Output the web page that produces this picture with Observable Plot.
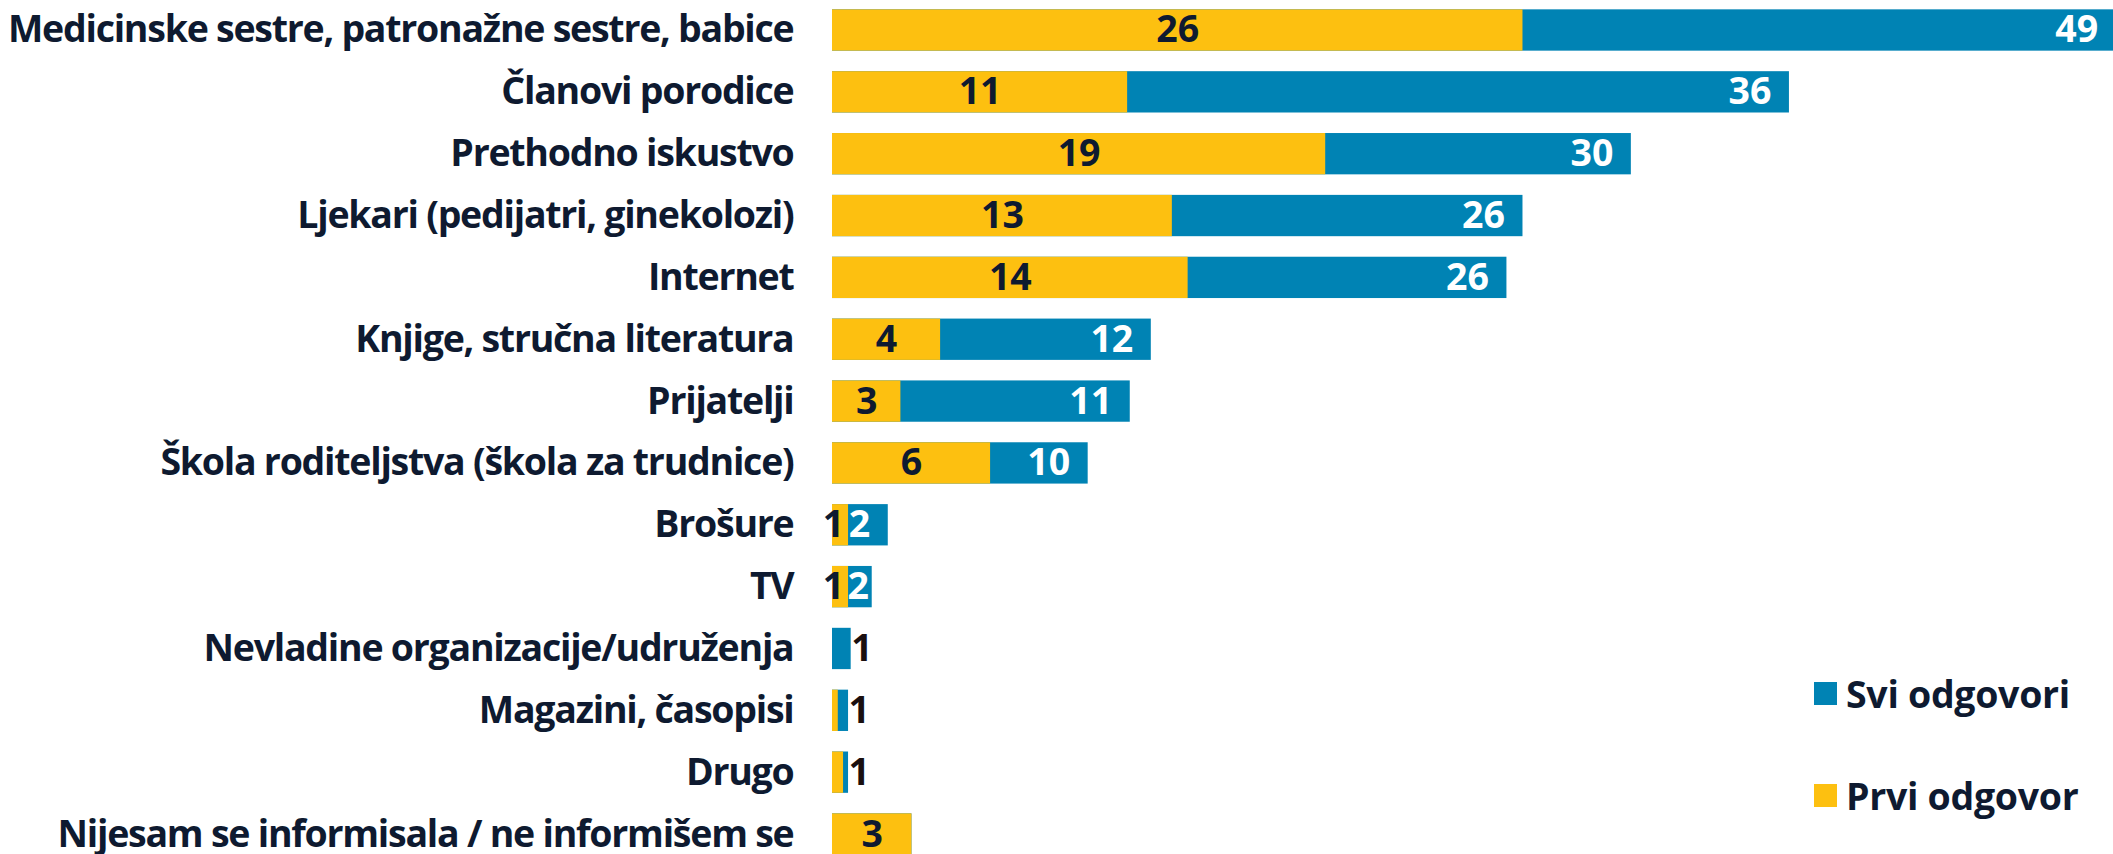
<!DOCTYPE html>
<html>
<head>
<meta charset="utf-8">
<script src="https://cdn.jsdelivr.net/npm/d3@7"></script>
<script src="https://cdn.jsdelivr.net/npm/@observablehq/plot@0.6"></script>
<style>
  html, body { margin: 0; padding: 0; background: white; }
  #wrap { position: relative; width: 2113px; height: 854px; overflow: hidden; }
  .legend-item { position: absolute; left: 1814px; height: 40px; display: flex; align-items: center;
    font-family: 'Open Sans', sans-serif; font-weight: 700; font-size: 37.5px; color: #0e1a30; white-space: nowrap; letter-spacing: -0.3px; }
  .legend-item .sw { width: 23px; height: 23px; margin-right: 9px; flex: none; }
  .y-labels text { letter-spacing: -1.25px; }
</style>
</head>
<body>
<div id="wrap"></div>
<script>
const categories = [
  "Medicinske sestre, patronažne sestre, babice",
  "Članovi porodice",
  "Prethodno iskustvo",
  "Ljekari (pedijatri, ginekolozi)",
  "Internet",
  "Knjige, stručna literatura",
  "Prijatelji",
  "Škola roditeljstva (škola za trudnice)",
  "Brošure",
  "TV",
  "Nevladine organizacije/udruženja",
  "Magazini, časopisi",
  "Drugo",
  "Nijesam se informisala / ne informišem se"
];
// "Prvi odgovor" (first answer), percent
const prviOdgovor = [26.25, 11.22, 18.75, 12.92, 13.52, 4.11, 2.60, 6.01, 0.61, 0.61, 0, 0.22, 0.42, 3.02];
// "Svi odgovori" (all answers), percent
const sviOdgovori = [48.8, 36.38, 30.37, 26.25, 25.64, 12.12, 11.32, 9.72, 2.12, 1.51, 0.71, 0.61, 0.61, 3.02];
const seriesNames = ["Svi odgovori", "Prvi odgovor"];

const BLUE = "#0083b4";
const YELLOW = "#fdc010";
const TEXT = "#0e1a30";

const data = categories.map((c, i) => ({category: c, first: prviOdgovor[i], all: sviOdgovori[i]}));

const W = 2113, H = 854, ML = 832;
const xMax = 48.7;
const k = (W - ML) / xMax; // px per unit, used only for label placement rules

const firstLabels = data.filter(d => Math.round(d.first) >= 1);
const firstBig = firstLabels.filter(d => d.first >= 1);
const firstSmall = firstLabels.filter(d => d.first < 1);
const allLabels = data.filter(d => d.all > d.first);
const allInside = allLabels.filter(d => d.all >= 1 && (d.all - d.first) * k >= 39);
const allNarrow = allLabels.filter(d => d.all >= 1 && (d.all - d.first) * k < 39);
const allOutside = allLabels.filter(d => d.all < 1);

const fs = 37.5;

const chart = Plot.plot({
  width: W,
  height: H,
  marginLeft: ML,
  marginRight: 0,
  marginTop: 0,
  marginBottom: 0,
  x: {domain: [0, xMax], axis: null},
  y: {domain: categories, range: [0, 864], round: false, paddingInner: 0.332, paddingOuter: 0.151, axis: null},
  style: {fontFamily: "'Open Sans', sans-serif", fontSize: fs + "px", fontWeight: 700, color: TEXT, background: "white"},
  marks: [
    Plot.axisY({tickSize: 0, tickPadding: 39, label: null, fontSize: fs, fontWeight: 700, fill: TEXT, className: "y-labels"}),
    Plot.barX(data, {y: "category", x: "all", fill: BLUE, clip: true}),
    Plot.barX(data, {y: "category", x: "first", fill: YELLOW}),
    Plot.text(firstBig, {y: "category", x: d => d.first / 2, text: d => String(Math.round(d.first)), fill: TEXT, fontSize: fs, fontWeight: 700, textAnchor: "middle"}),
    Plot.text(firstSmall, {y: "category", x: d => d.first / 2, text: d => String(Math.round(d.first)), fill: TEXT, fontSize: fs, fontWeight: 700, textAnchor: "middle", dx: -7}),
    Plot.text(allInside, {y: "category", x: "all", text: d => String(Math.round(d.all)), fill: "white", fontSize: fs, fontWeight: 700, textAnchor: "end", dx: -18}),
    Plot.text(allNarrow, {y: "category", x: "first", text: d => String(Math.round(d.all)), fill: "white", fontSize: fs, fontWeight: 700, textAnchor: "start", dx: -1}),
    Plot.text(allOutside, {y: "category", x: "all", text: d => String(Math.round(d.all)), fill: "#1a0f0f", fontSize: fs, fontWeight: 700, textAnchor: "start", dx: 0})
  ]
});

const wrap = document.getElementById("wrap");
wrap.appendChild(chart);

const legendColors = [BLUE, YELLOW];
const legendCenters = [693.7, 795.3];
seriesNames.forEach((name, i) => {
  const item = document.createElement("div");
  item.className = "legend-item";
  item.style.top = (legendCenters[i] - 20) + "px";
  const sw = document.createElement("span");
  sw.className = "sw";
  sw.style.background = legendColors[i];
  const t = document.createElement("span");
  t.textContent = name;
  item.appendChild(sw);
  item.appendChild(t);
  wrap.appendChild(item);
});
</script>
</body>
</html>
